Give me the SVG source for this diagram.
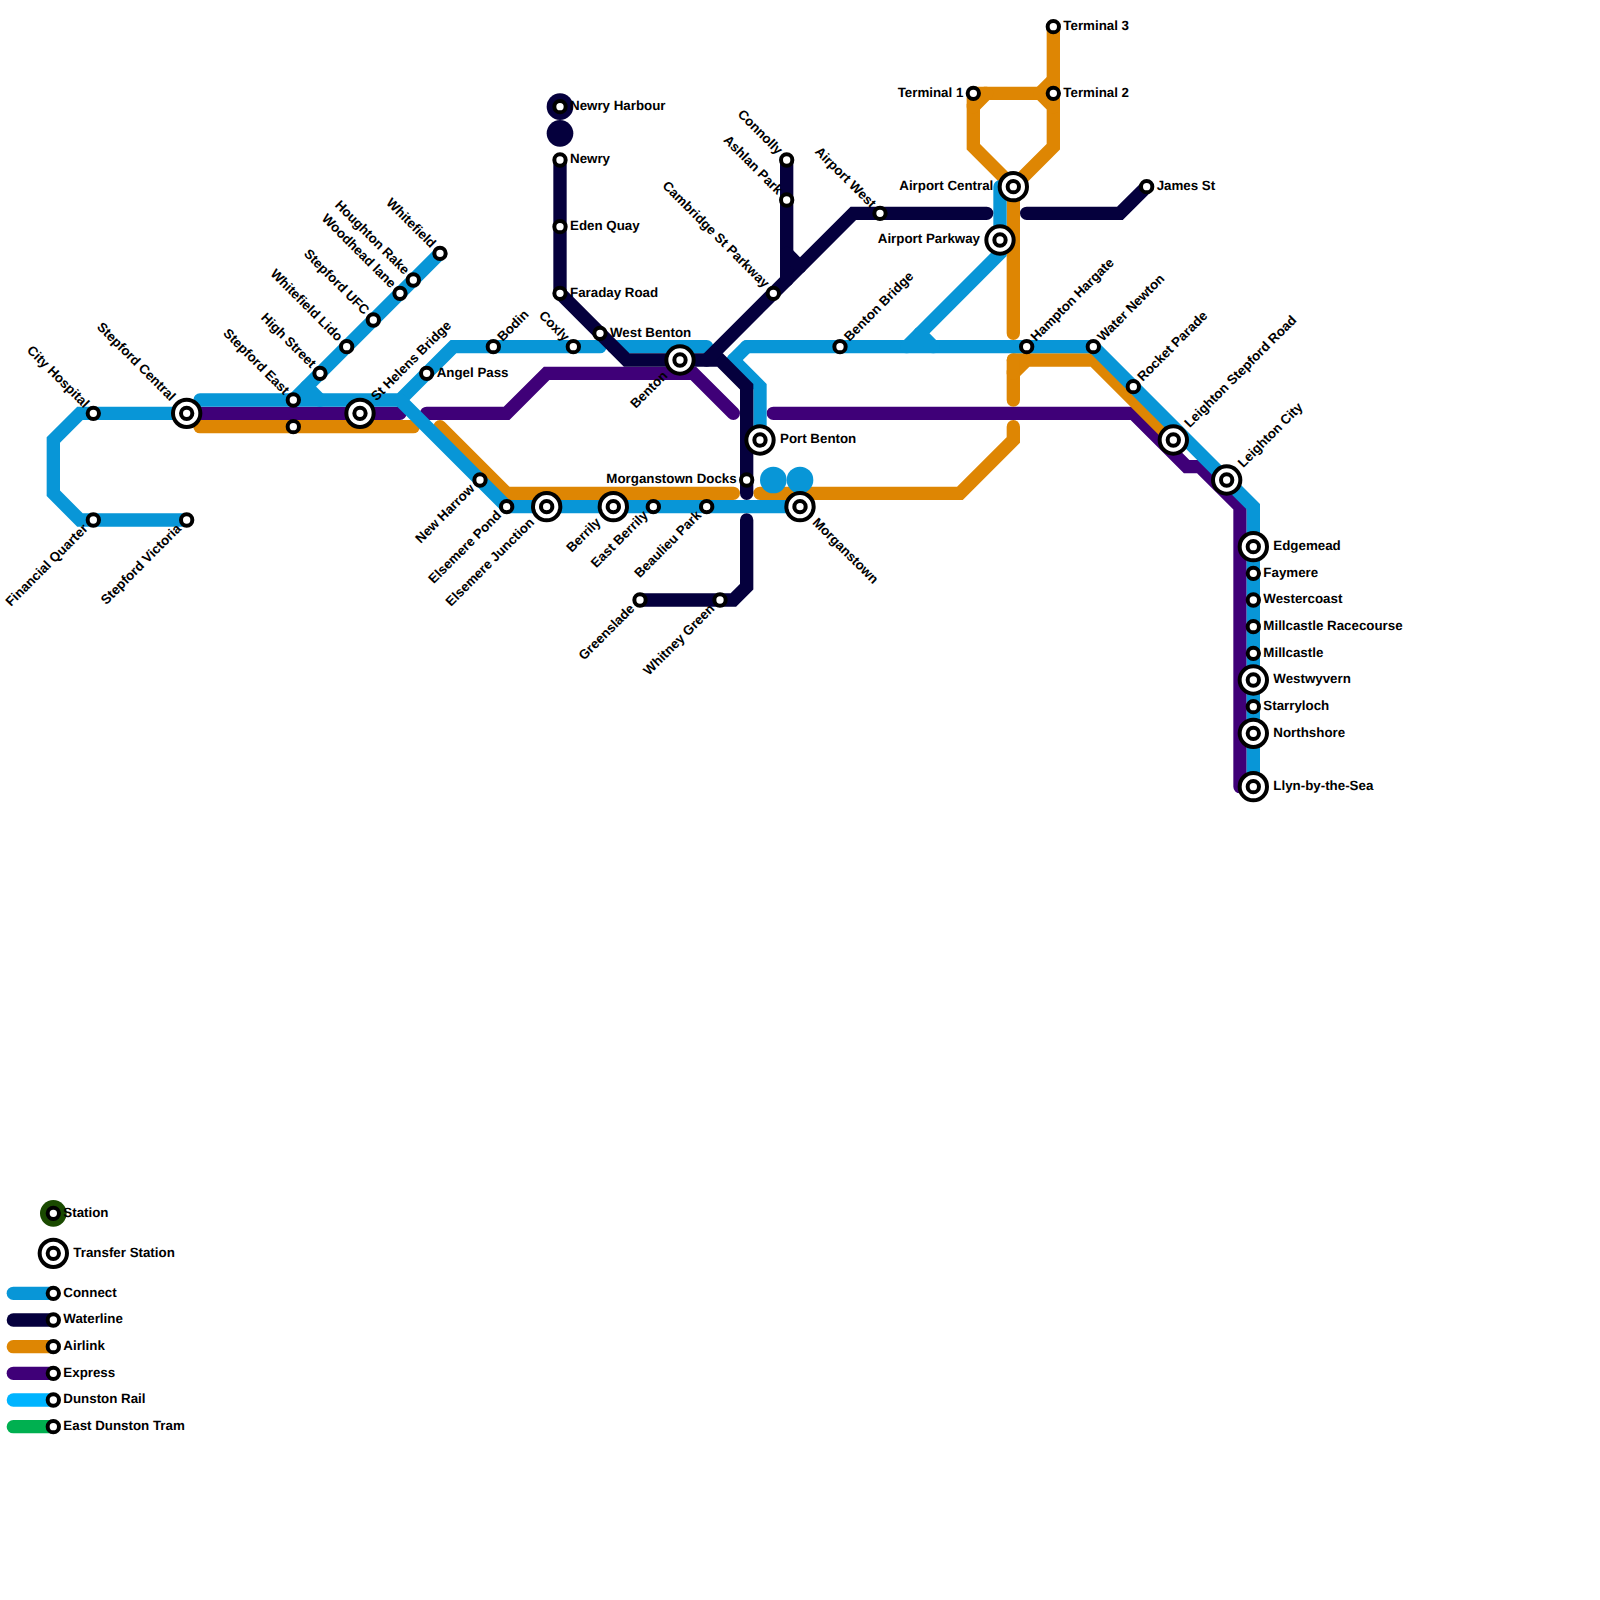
<svg xmlns="http://www.w3.org/2000/svg" width="1600" height="1600" viewBox="0 0 1600 1600">
<style>
.l{fill:none;stroke-width:13.33;stroke-linecap:round;stroke-linejoin:miter}
.c{stroke:#0896d7}.w{stroke:#05003d}.a{stroke:#de8603}.e{stroke:#3f0078}.d{stroke:#00b4ff}.t{stroke:#00b050}
.s{fill:#fff;stroke:#000;stroke-width:4}
.x{fill:#fff;stroke:#000;stroke-width:4}
text{font-family:"Liberation Sans",Arial,sans-serif;font-size:13.33px;font-weight:bold;fill:#000;text-rendering:geometricPrecision}
.e2{text-anchor:end}
</style>
<g id="connectors">
<g id="line-express">
<path class="l e" d="M200 413.33H400"/>
<path class="l e" d="M426.67 413.33H506.67L546.67 373.33H693.33L733.33 413.33"/>
<path class="l e" d="M773.33 413.33H1133.33L1186.67 466.67H1200L1240 506.67V786.67"/>
</g>
<g id="line-airlink">
<path class="l a" d="M200 426.67H413.33"/>
<path class="l a" d="M440 426.67L506.67 493.33H733.33"/>
<path class="l a" d="M760 493.33H960L1013.33 440V426.67"/>
<path class="l a" d="M1013.33 400V373.33L1026.67 360H1093.33L1173.33 440"/>
<path class="l a" d="M1013.33 360H1026.67"/>
<path class="l a" d="M1013.33 360V373.33"/>
<path class="l a" d="M1013.33 333.33V186.67L973.33 146.67V106.67L986.67 93.33H1040L1053.33 106.67V146.67L1013.33 186.67"/>
<path class="l a" d="M973.33 93.33H986.67"/>
<path class="l a" d="M973.33 93.33V106.67"/>
<path class="l a" d="M1040 93.33L1053.33 80"/>
<path class="l a" d="M1053.33 26.67V106.67"/>
</g>
<g id="line-connect">
<path class="l c" d="M186.67 413.33H80L53.33 440V493.33L80 520H186.67"/>
<path class="l c" d="M200 400H400L453.33 346.67H600"/>
<path class="l c" d="M293.33 400L440 253.33"/>
<path class="l c" d="M306.67 386.67L320 400"/>
<path class="l c" d="M400 400L506.67 506.67H800"/>
<path class="l c" d="M613.33 346.67H706.67"/>
<path class="l c" d="M760 440V386.67L733.33 360"/>
<path class="l c" d="M733.33 360L746.67 346.67"/>
<path class="l c" d="M746.67 346.67H1093.33L1253.33 506.67V786.67"/>
<path class="l c" d="M1000 186.67V253.33L906.67 346.67"/>
<path class="l c" d="M920 333.33L933.33 346.67"/>
</g>
<g id="line-waterline">
<path class="l w" d="M560 160V293.33L626.67 360H720L746.67 386.67V493.33"/>
<path class="l w" d="M706.67 360L853.33 213.33H986.67"/>
<path class="l w" d="M786.67 160V280"/>
<path class="l w" d="M786.67 253.33L800 266.67"/>
<path class="l w" d="M1026.67 213.33H1120L1146.67 186.67"/>
<path class="l w" d="M746.67 520V586.67L733.33 600H640"/>
</g>
</g>
<g id="blobs">
<circle cx="560" cy="106.67" r="13.33" fill="#05003d"/>
<circle cx="560" cy="133.33" r="13.33" fill="#05003d"/>
<circle cx="773.33" cy="480" r="13.33" fill="#0896d7"/>
<circle cx="800" cy="480" r="13.33" fill="#0896d7"/>
</g>
<g id="city-hospital"><circle class="s" cx="93.33" cy="413.33" r="5.67"/><text transform="translate(93.33 413.33) rotate(45)" class="e2" x="-10" y="3.33">City Hospital</text></g>
<g id="financial-quarter"><circle class="s" cx="93.33" cy="520" r="5.67"/><text transform="translate(93.33 520) rotate(-45)" class="e2" x="-10" y="3.33">Financial Quarter</text></g>
<g id="stepford-victoria"><circle class="s" cx="186.67" cy="520" r="5.67"/><text transform="translate(186.67 520) rotate(-45)" class="e2" x="-10" y="3.33">Stepford Victoria</text></g>
<g id="stepford-central"><circle class="x" cx="186.67" cy="413.33" r="13.67"/><circle class="s" cx="186.67" cy="413.33" r="5.67"/><text transform="translate(186.67 413.33) rotate(45)" class="e2" x="-20" y="3.33">Stepford Central</text></g>
<g id="stepford-east"><circle class="s" cx="293.33" cy="400" r="5.67"/><text transform="translate(293.33 400) rotate(45)" class="e2" x="-10" y="3.33">Stepford East</text></g>
<g id="stepford-east-lower"><circle class="s" cx="293.33" cy="426.67" r="5.67"/></g>
<g id="high-street"><circle class="s" cx="320" cy="373.33" r="5.67"/><text transform="translate(320 373.33) rotate(45)" class="e2" x="-10" y="3.33">High Street</text></g>
<g id="whitefield-lido"><circle class="s" cx="346.67" cy="346.67" r="5.67"/><text transform="translate(346.67 346.67) rotate(45)" class="e2" x="-10" y="3.33">Whitefield Lido</text></g>
<g id="stepford-ufc"><circle class="s" cx="373.33" cy="320" r="5.67"/><text transform="translate(373.33 320) rotate(45)" class="e2" x="-10" y="3.33">Stepford UFC</text></g>
<g id="woodhead-lane"><circle class="s" cx="400" cy="293.33" r="5.67"/><text transform="translate(400 293.33) rotate(45)" class="e2" x="-10" y="3.33">Woodhead lane</text></g>
<g id="houghton-rake"><circle class="s" cx="413.33" cy="280" r="5.67"/><text transform="translate(413.33 280) rotate(45)" class="e2" x="-10" y="3.33">Houghton Rake</text></g>
<g id="whitefield"><circle class="s" cx="440" cy="253.33" r="5.67"/><text transform="translate(440 253.33) rotate(45)" class="e2" x="-10" y="3.33">Whitefield</text></g>
<g id="st-helens-bridge"><circle class="x" cx="360" cy="413.33" r="13.67"/><circle class="s" cx="360" cy="413.33" r="5.67"/><text transform="translate(360 413.33) rotate(-45)" x="20" y="3.33">St Helens Bridge</text></g>
<g id="angel-pass"><circle class="s" cx="426.67" cy="373.33" r="5.67"/><text x="436.67" y="376.67">Angel Pass</text></g>
<g id="bodin"><circle class="s" cx="493.33" cy="346.67" r="5.67"/><text transform="translate(493.33 346.67) rotate(-45)" x="10" y="3.33">Bodin</text></g>
<g id="coxly"><circle class="s" cx="573.33" cy="346.67" r="5.67"/><text transform="translate(573.33 346.67) rotate(45)" class="e2" x="-10" y="3.33">Coxly</text></g>
<g id="new-harrow"><circle class="s" cx="480" cy="480" r="5.67"/><text transform="translate(480 480) rotate(-45)" class="e2" x="-10" y="3.33">New Harrow</text></g>
<g id="elsemere-pond"><circle class="s" cx="506.67" cy="506.67" r="5.67"/><text transform="translate(506.67 506.67) rotate(-45)" class="e2" x="-10" y="3.33">Elsemere Pond</text></g>
<g id="elsemere-junction"><circle class="x" cx="546.67" cy="506.67" r="13.67"/><circle class="s" cx="546.67" cy="506.67" r="5.67"/><text transform="translate(546.67 506.67) rotate(-45)" class="e2" x="-20" y="3.33">Elsemere Junction</text></g>
<g id="berrily"><circle class="x" cx="613.33" cy="506.67" r="13.67"/><circle class="s" cx="613.33" cy="506.67" r="5.67"/><text transform="translate(613.33 506.67) rotate(-45)" class="e2" x="-20" y="3.33">Berrily</text></g>
<g id="east-berrily"><circle class="s" cx="653.33" cy="506.67" r="5.67"/><text transform="translate(653.33 506.67) rotate(-45)" class="e2" x="-10" y="3.33">East Berrily</text></g>
<g id="beaulieu-park"><circle class="s" cx="706.67" cy="506.67" r="5.67"/><text transform="translate(706.67 506.67) rotate(-45)" class="e2" x="-10" y="3.33">Beaulieu Park</text></g>
<g id="morganstown"><circle class="x" cx="800" cy="506.67" r="13.67"/><circle class="s" cx="800" cy="506.67" r="5.67"/><text transform="translate(800 506.67) rotate(45)" x="20" y="3.33">Morganstown</text></g>
<g id="greenslade"><circle class="s" cx="640" cy="600" r="5.67"/><text transform="translate(640 600) rotate(-45)" class="e2" x="-10" y="3.33">Greenslade</text></g>
<g id="whitney-green"><circle class="s" cx="720" cy="600" r="5.67"/><text transform="translate(720 600) rotate(-45)" class="e2" x="-10" y="3.33">Whitney Green</text></g>
<g id="newry-harbour"><circle class="s" cx="560" cy="106.67" r="5.67"/><text x="570" y="110">Newry Harbour</text></g>
<g id="newry"><circle class="s" cx="560" cy="160" r="5.67"/><text x="570" y="163.33">Newry</text></g>
<g id="eden-quay"><circle class="s" cx="560" cy="226.67" r="5.67"/><text x="570" y="230">Eden Quay</text></g>
<g id="faraday-road"><circle class="s" cx="560" cy="293.33" r="5.67"/><text x="570" y="296.67">Faraday Road</text></g>
<g id="west-benton"><circle class="s" cx="600" cy="333.33" r="5.67"/><text x="610" y="336.67">West Benton</text></g>
<g id="benton"><circle class="x" cx="680" cy="360" r="13.67"/><circle class="s" cx="680" cy="360" r="5.67"/><text transform="translate(680 360) rotate(-45)" class="e2" x="-20" y="3.33">Benton</text></g>
<g id="cambridge-st-parkway"><circle class="s" cx="773.33" cy="293.33" r="5.67"/><text transform="translate(773.33 293.33) rotate(45)" class="e2" x="-10" y="3.33">Cambridge St Parkway</text></g>
<g id="connolly"><circle class="s" cx="786.67" cy="160" r="5.67"/><text transform="translate(786.67 160) rotate(45)" class="e2" x="-10" y="3.33">Connolly</text></g>
<g id="ashlan-park"><circle class="s" cx="786.67" cy="200" r="5.67"/><text transform="translate(786.67 200) rotate(45)" class="e2" x="-10" y="3.33">Ashlan Park</text></g>
<g id="airport-west"><circle class="s" cx="880" cy="213.33" r="5.67"/><text transform="translate(880 213.33) rotate(45)" class="e2" x="-10" y="3.33">Airport West</text></g>
<g id="benton-bridge"><circle class="s" cx="840" cy="346.67" r="5.67"/><text transform="translate(840 346.67) rotate(-45)" x="10" y="3.33">Benton Bridge</text></g>
<g id="port-benton"><circle class="x" cx="760" cy="440" r="13.67"/><circle class="s" cx="760" cy="440" r="5.67"/><text x="780" y="443.33">Port Benton</text></g>
<g id="morganstown-docks"><circle class="s" cx="746.67" cy="480" r="5.67"/><text class="e2" x="736.67" y="483.33">Morganstown Docks</text></g>
<g id="terminal-1"><circle class="s" cx="973.33" cy="93.33" r="5.67"/><text class="e2" x="963.33" y="96.67">Terminal 1</text></g>
<g id="terminal-2"><circle class="s" cx="1053.33" cy="93.33" r="5.67"/><text x="1063.33" y="96.67">Terminal 2</text></g>
<g id="terminal-3"><circle class="s" cx="1053.33" cy="26.67" r="5.67"/><text x="1063.33" y="30">Terminal 3</text></g>
<g id="airport-central"><circle class="x" cx="1013.33" cy="186.67" r="13.67"/><circle class="s" cx="1013.33" cy="186.67" r="5.67"/><text class="e2" x="993.33" y="190">Airport Central</text></g>
<g id="airport-parkway"><circle class="x" cx="1000" cy="240" r="13.67"/><circle class="s" cx="1000" cy="240" r="5.67"/><text class="e2" x="980" y="243.33">Airport Parkway</text></g>
<g id="james-st"><circle class="s" cx="1146.67" cy="186.67" r="5.67"/><text x="1156.67" y="190">James St</text></g>
<g id="hampton-hargate"><circle class="s" cx="1026.67" cy="346.67" r="5.67"/><text transform="translate(1026.67 346.67) rotate(-45)" x="10" y="3.33">Hampton Hargate</text></g>
<g id="water-newton"><circle class="s" cx="1093.33" cy="346.67" r="5.67"/><text transform="translate(1093.33 346.67) rotate(-45)" x="10" y="3.33">Water Newton</text></g>
<g id="rocket-parade"><circle class="s" cx="1133.33" cy="386.67" r="5.67"/><text transform="translate(1133.33 386.67) rotate(-45)" x="10" y="3.33">Rocket Parade</text></g>
<g id="leighton-stepford-road"><circle class="x" cx="1173.33" cy="440" r="13.67"/><circle class="s" cx="1173.33" cy="440" r="5.67"/><text transform="translate(1173.33 440) rotate(-45)" x="20" y="3.33">Leighton Stepford Road</text></g>
<g id="leighton-city"><circle class="x" cx="1226.67" cy="480" r="13.67"/><circle class="s" cx="1226.67" cy="480" r="5.67"/><text transform="translate(1226.67 480) rotate(-45)" x="20" y="3.33">Leighton City</text></g>
<g id="edgemead"><circle class="x" cx="1253.33" cy="546.67" r="13.67"/><circle class="s" cx="1253.33" cy="546.67" r="5.67"/><text x="1273.33" y="550">Edgemead</text></g>
<g id="faymere"><circle class="s" cx="1253.33" cy="573.33" r="5.67"/><text x="1263.33" y="576.67">Faymere</text></g>
<g id="westercoast"><circle class="s" cx="1253.33" cy="600" r="5.67"/><text x="1263.33" y="603.33">Westercoast</text></g>
<g id="millcastle-racecourse"><circle class="s" cx="1253.33" cy="626.67" r="5.67"/><text x="1263.33" y="630">Millcastle Racecourse</text></g>
<g id="millcastle"><circle class="s" cx="1253.33" cy="653.33" r="5.67"/><text x="1263.33" y="656.67">Millcastle</text></g>
<g id="westwyvern"><circle class="x" cx="1253.33" cy="680" r="13.67"/><circle class="s" cx="1253.33" cy="680" r="5.67"/><text x="1273.33" y="683.33">Westwyvern</text></g>
<g id="starryloch"><circle class="s" cx="1253.33" cy="706.67" r="5.67"/><text x="1263.33" y="710">Starryloch</text></g>
<g id="northshore"><circle class="x" cx="1253.33" cy="733.33" r="13.67"/><circle class="s" cx="1253.33" cy="733.33" r="5.67"/><text x="1273.33" y="736.67">Northshore</text></g>
<g id="llyn-by-the-sea"><circle class="x" cx="1253.33" cy="786.67" r="13.67"/><circle class="s" cx="1253.33" cy="786.67" r="5.67"/><text x="1273.33" y="790">Llyn-by-the-Sea</text></g>
<g id="legend">
<g id="legend-station"><circle cx="53.33" cy="1213.33" r="13.33" fill="#1a4a00"/><circle class="s" cx="53.33" cy="1213.33" r="5.67"/><text x="63.33" y="1216.67">Station</text></g>
<g id="legend-transfer"><circle class="x" cx="53.33" cy="1253.33" r="13.67"/><circle class="s" cx="53.33" cy="1253.33" r="5.67"/><text x="73.33" y="1256.67">Transfer Station</text></g>
<g id="legend-connect"><path class="l c" d="M13.33 1293.33H53.33"/><circle class="s" cx="53.33" cy="1293.33" r="5.67"/><text x="63.33" y="1296.67">Connect</text></g>
<g id="legend-waterline"><path class="l w" d="M13.33 1320H53.33"/><circle class="s" cx="53.33" cy="1320" r="5.67"/><text x="63.33" y="1323.33">Waterline</text></g>
<g id="legend-airlink"><path class="l a" d="M13.33 1346.67H53.33"/><circle class="s" cx="53.33" cy="1346.67" r="5.67"/><text x="63.33" y="1350">Airlink</text></g>
<g id="legend-express"><path class="l e" d="M13.33 1373.33H53.33"/><circle class="s" cx="53.33" cy="1373.33" r="5.67"/><text x="63.33" y="1376.67">Express</text></g>
<g id="legend-dunston"><path class="l d" d="M13.33 1400H53.33"/><circle class="s" cx="53.33" cy="1400" r="5.67"/><text x="63.33" y="1403.33">Dunston Rail</text></g>
<g id="legend-tram"><path class="l t" d="M13.33 1426.67H53.33"/><circle class="s" cx="53.33" cy="1426.67" r="5.67"/><text x="63.33" y="1430">East Dunston Tram</text></g>
</g>
</svg>
